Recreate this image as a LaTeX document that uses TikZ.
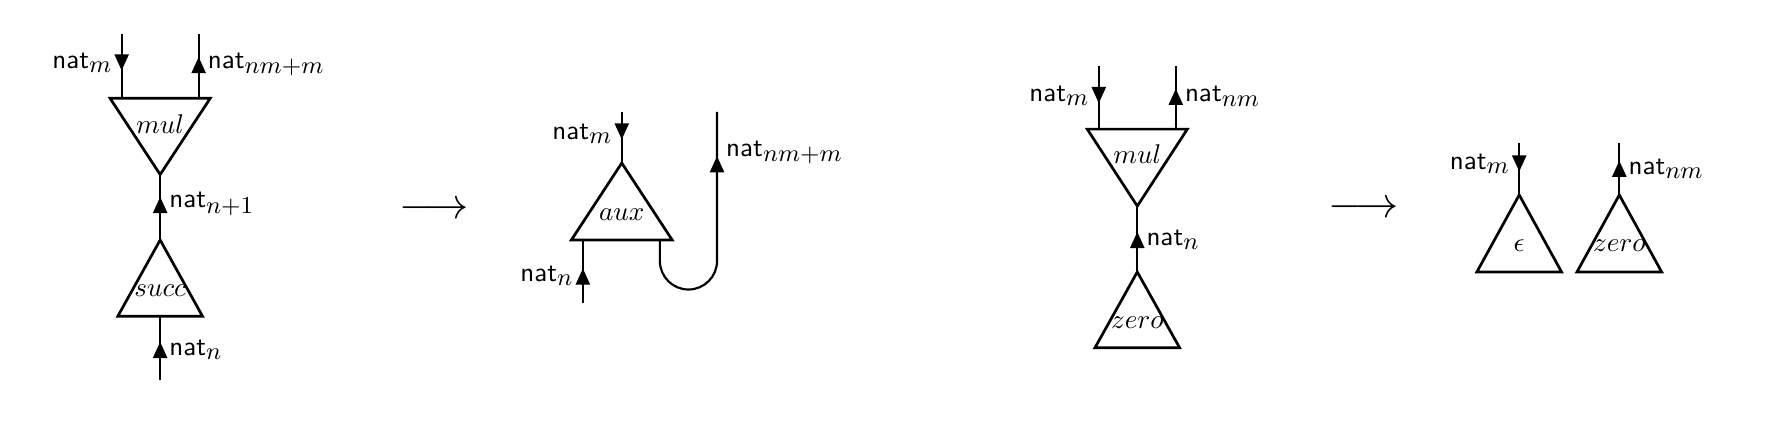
\documentclass[tikz,border=0pt]{standalone}
\usetikzlibrary{arrows.meta, decorations.markings}
\DeclareMathSizes{10}{10}{9}{7}
\newcommand{\natw}[1]{\textsf{nat}$_{#1}$}

\begin{document}
\begin{tikzpicture}[
        wire/.style={thick},
        tri/.style={line width=1pt},
        flow/.style={postaction={decorate, decoration={markings,
            mark=at position #1 with {\arrow{Triangle[length=6pt, width=5.2pt]}}}}},
        lab/.style={inner sep=3pt},
        rewrite/.style={scale=1.6}
    ]
        \useasboundingbox (0,0) rectangle (23.0,5.727);

        % mul . succ
        \coordinate (mulA) at (2.08,3.46);
        \coordinate (mulL) at (1.58,4.45);
        \coordinate (mulR) at (2.58,4.45);
        \coordinate (inM) at (1.58,5.29);
        \coordinate (outNM) at (2.58,5.29);
        \coordinate (succA) at (2.08,2.61);
        \coordinate (inN) at (2.08,0.79);
        \coordinate (succB) at (2.08,1.62);
        \draw[tri] (1.43,4.45) -- (2.73,4.45) -- (mulA) -- cycle;
        \node (mul) at (2.08,4.12) {$mul$};
        \draw[tri] (1.53,1.62) -- (2.63,1.62) -- (succA) -- cycle;
        \node (succ) at (2.08,1.95) {$succ$};
        \draw[wire, flow=0.57] (inM) -- node[lab, left, pos=0.45] (lM) {\natw{m}} (mulL);
        \draw[wire, flow=0.64] (mulR) -- node[lab, right, pos=0.52] (lNMM) {\natw{nm+m}} (outNM);
        \draw[wire, flow=0.66] (succA) -- node[lab, right, pos=0.55] (lN1) {\natw{n+1}} (mulA);
        \draw[wire, flow=0.6] (inN) -- node[lab, right, pos=0.48] (lN) {\natw{n}} (succB);

        \node[rewrite] (step1) at (5.64,2.99) {$\longrightarrow$};

        % aux
        \coordinate (auxA) at (8.075,3.61);
        \coordinate (auxL) at (7.57,2.61);
        \coordinate (auxR) at (8.57,2.61);
        \coordinate (inM2) at (8.075,4.273);
        \coordinate (inN2) at (7.57,1.79);
        \coordinate (outNM2) at (9.312,4.273);
        \draw[tri] (7.42,2.61) -- (8.73,2.61) -- (auxA) -- cycle;
        \node (aux) at (8.075,2.94) {$aux$};
        \draw[wire, flow=0.54] (inM2) -- node[lab, left, pos=0.42] (lM2) {\natw{m}} (auxA);
        \draw[wire, flow=0.55] (inN2) -- node[lab, left, pos=0.43] (lN2) {\natw{n}} (auxL);
        \draw[wire, flow=0.83] (auxR) -- ++(0,-0.272) arc[start angle=180, end angle=360, radius=0.371]
            -- node[lab, right, pos=0.73] (lNMM2) {\natw{nm+m}} (outNM2);

        % mul . zero
        \coordinate (mulA3) at (14.77,3.05);
        \coordinate (mulL3) at (14.27,4.05);
        \coordinate (mulR3) at (15.27,4.05);
        \coordinate (inM3) at (14.27,4.87);
        \coordinate (outNM3) at (15.27,4.87);
        \coordinate (zeroA3) at (14.77,2.195);
        \draw[tri] (14.12,4.05) -- (15.42,4.05) -- (mulA3) -- cycle;
        \node (mul3) at (14.77,3.72) {$mul$};
        \draw[tri] (14.22,1.21) -- (15.32,1.21) -- (zeroA3) -- cycle;
        \node (zero3) at (14.77,1.54) {$zero$};
        \draw[wire, flow=0.59] (inM3) -- node[lab, left, pos=0.47] (lM3) {\natw{m}} (mulL3);
        \draw[wire, flow=0.64] (mulR3) -- node[lab, right, pos=0.52] (lNM3) {\natw{nm}} (outNM3);
        \draw[wire, flow=0.61] (zeroA3) -- node[lab, right, pos=0.49] (lN3) {\natw{n}} (mulA3);

        \node[rewrite] (step2) at (17.71,3.0) {$\longrightarrow$};

        % epsilon, zero
        \coordinate (epsA) at (19.73,3.195);
        \coordinate (zeroA4) at (21.03,3.195);
        \coordinate (inM4) at (19.73,3.87);
        \coordinate (outNM4) at (21.03,3.87);
        \draw[tri] (19.18,2.195) -- (20.28,2.195) -- (epsA) -- cycle;
        \node (eps) at (19.73,2.53) {$\epsilon$};
        \draw[tri] (20.48,2.195) -- (21.58,2.195) -- (zeroA4) -- cycle;
        \node (zero4) at (21.03,2.53) {$zero$};
        \draw[wire, flow=0.55] (inM4) -- node[lab, left, pos=0.4] (lM4) {\natw{m}} (epsA);
        \draw[wire, flow=0.66] (zeroA4) -- node[lab, right, pos=0.51] (lNM4) {\natw{nm}} (outNM4);
    \end{tikzpicture}
\end{document}
